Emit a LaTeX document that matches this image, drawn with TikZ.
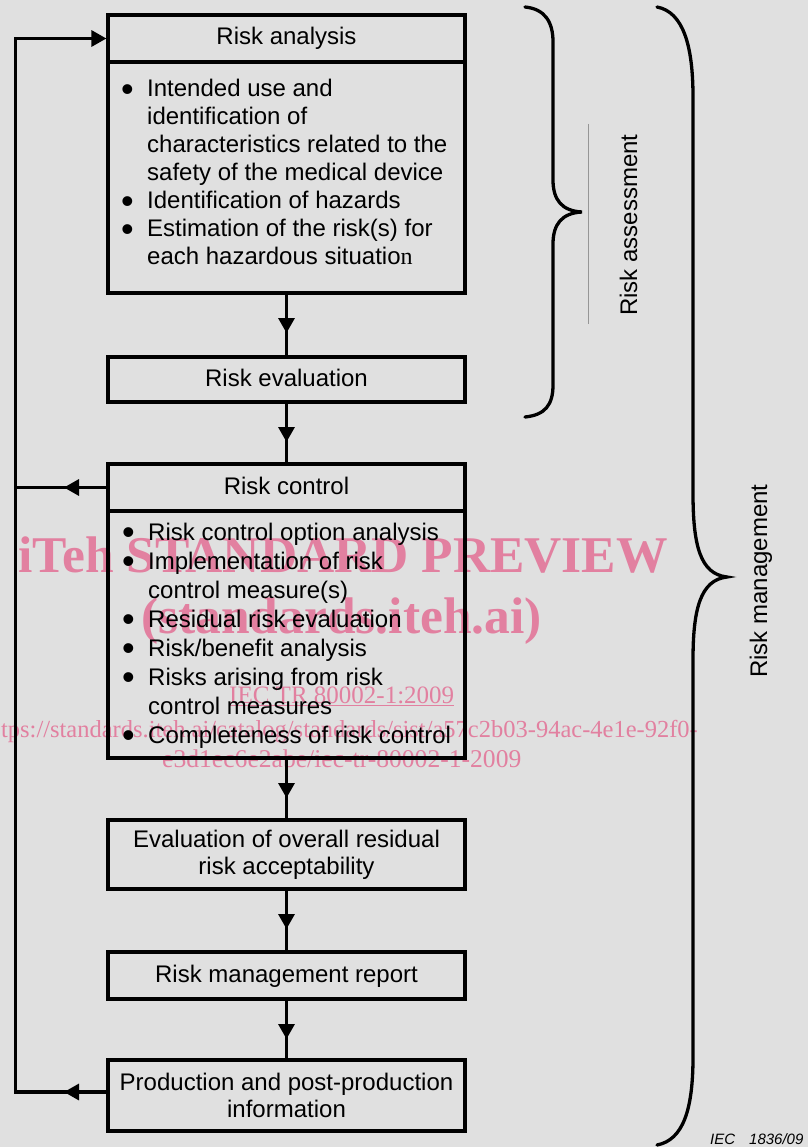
\documentclass[tikz,border=0pt]{standalone}
\usepackage{fontspec}
\setmainfont{Liberation Sans}
\newfontfamily\timesf{Liberation Serif}
\usetikzlibrary{arrows.meta,decorations.markings}
\definecolor{bgc}{RGB}{224,224,224}
\definecolor{wm}{RGB}{226,128,160}
\definecolor{sepgray}{RGB}{150,150,150}
\newcommand{\bul}{\makebox[24pt][l]{\hspace{-2pt}\raisebox{-4.5pt}{\fontsize{36}{36}\selectfont\textbullet}}}
\newcommand{\ind}{\hspace*{24pt}}
\begin{document}
\begin{tikzpicture}[x=1pt,y=-1pt,
  box/.style={draw, line width=3.3pt, minimum width=357pt, inner sep=0pt, outer sep=0pt, align=center, font=\fontsize{24}{27}\selectfont},
  one/.style={text height=18pt, text depth=5pt},
  conn/.style={line width=3.2pt},
  midarrow/.style={postaction={decorate}, decoration={markings, mark=at position #1 with {\arrow{Triangle[length=15pt,width=16pt]}}}},
  brace/.style={line width=3.3pt, line cap=round},
  wmark/.style={text=wm, inner sep=0pt, anchor=base west, font=\timesf\fontsize{25}{25}\selectfont},
  wmbig/.style={wmark, font=\timesf\bfseries\fontsize{51.5}{52}\selectfont},
  blist/.style={anchor=base west, inner sep=0pt},
  side/.style={rotate=90, anchor=base, inner sep=0pt, font=\fontsize{24}{24}\selectfont}
]
\fill[bgc] (0,0) rectangle (808,1147);
\useasboundingbox (0,0) rectangle (808,1147);

% watermark
\node[wmbig] (wm1) at (18,572) {iTeh STANDARD PREVIEW};
\node[wmbig] (wm2) at (141,633) {(standards.iteh.ai)};
\node[wmark] (wm3) at (229,703) {\underline{IEC TR 80002-1:2009}};
\node[wmark, anchor=base east, font=\timesf\fontsize{24.5}{25}\selectfont] (wm4) at (698,737) {tps://standards.iteh.ai/catalog/standards/sist/a57c2b03-94ac-4e1e-92f0-};
\node[wmark, font=\timesf\fontsize{25.6}{26}\selectfont] (wm5) at (162,767) {e3d1ec6e2abe/iec-tr-80002-1-2009};

% boxes
\node[box, one, minimum height=47pt] (rah) at (286.5,38.5) {Risk analysis};
\node[box, minimum height=231pt, anchor=north] (rab) at (286.5,62) {};
\node[blist] (rabt) at (123,97) {\parbox[t]{335pt}{\fontsize{24}{28}\selectfont\raggedright
\bul Intended use and\\
\ind identification of\\
\ind characteristics related to the\\
\ind safety of the medical device\\
\bul Identification of hazards\\
\bul Estimation of the risk(s) for\\
\ind each hazardous situatio{\timesf n}}};

\node[box, one, minimum height=45pt] (reval) at (286.5,379.5) {Risk evaluation};

\node[box, one, minimum height=47pt] (rch) at (286.5,487.5) {Risk control};
\node[box, minimum height=247pt, anchor=north] (rcb) at (286.5,511) {};
\node[blist] (rcbt) at (124,540) {\parbox[t]{335pt}{\fontsize{24}{29}\selectfont\raggedright
\bul Risk control option analysis\\
\bul Implementation of risk\\
\ind control measure(s)\\
\bul Residual risk evaluation\\
\bul Risk/benefit analysis\\
\bul Risks arising from risk\\
\ind control measures\\
\bul Completeness of risk control}};

\node[box, minimum height=69pt] (eval) at (286.5,854.5) {Evaluation of overall residual\\risk acceptability};
\node[box, one, minimum height=47pt] (rep) at (286.5,975.5) {Risk management report};
\node[box, minimum height=71pt] (prod) at (286.5,1095.5) {Production and post-production\\information};

% connectors
\draw[conn, midarrow=40pt] (rab.south) -- (reval.north);
\draw[conn, midarrow=40pt] (reval.south) -- (rch.north);
\draw[conn, midarrow=40pt] (rcb.south) -- (eval.north);
\draw[conn, midarrow=40pt] (eval.south) -- (rep.north);
\draw[conn, midarrow=40pt] (rep.south) -- (prod.north);
\coordinate (fbb) at (15.5,1092);
\coordinate (fbt) at (15.5,38.5);
\draw[conn, midarrow=44pt, -{Triangle[length=15pt,width=16pt]}, shorten >=1.6pt] (prod.west |- fbb) -- (fbb) -- (fbt) -- (rah.west);
\draw[conn, midarrow=44pt] (rch.west) -- (rch.west -| fbb);

% braces
\draw[brace] (525,7) .. controls (545,9) and (553,22) .. (553,42) -- (553,180) .. controls (553,200) and (562,211) .. (582,212) .. controls (562,213) and (553,224) .. (553,244) -- (553,385) .. controls (553,405) and (545,415) .. (525,417);
\draw[sepgray, line width=1pt] (588,124) -- (588,324);
\node[side] (ras) at (637,225) {Risk assessment};

\draw[brace] (657,7) .. controls (683,12) and (693,45) .. (693,97) -- (693,493) .. controls (693,545) and (700,574) .. (727,577) .. controls (700,580) and (693,610) .. (693,660) -- (693,1057) .. controls (693,1110) and (683,1140) .. (657,1145);
\node[side] (rm) at (767,581) {Risk management};

\node[anchor=base west, inner sep=0pt, font=\fontsize{15}{15}\selectfont\itshape] (iec) at (710,1144) {IEC\hspace{14pt}1836/09};
\end{tikzpicture}
\end{document}
